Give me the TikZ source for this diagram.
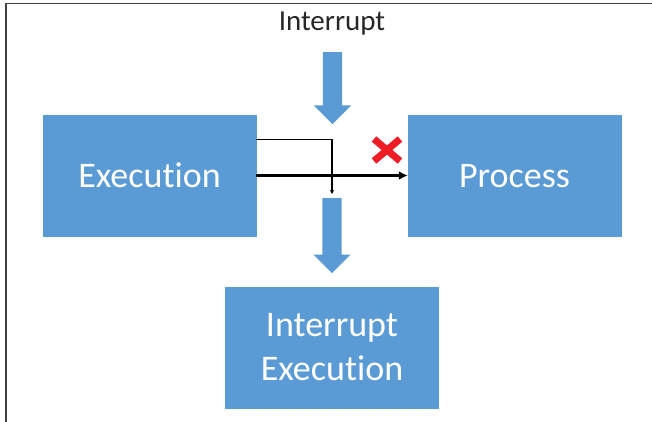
\documentclass[tikz,border=0pt]{standalone}
\usepackage{fontspec}
\setmainfont{Carlito}[Ligatures=NoCommon]
\usepackage{xcolor}
\usepackage{tikz}
\usetikzlibrary{shapes,arrows.meta,positioning,calc}
\definecolor{boxblue}{HTML}{5B9BD5}
\definecolor{stopred}{HTML}{EE1C25}

\begin{document}
\begin{tikzpicture}[x=1pt, y=-1pt,
    blockbox/.style={draw=boxblue, rectangle, fill=boxblue, text=white, font=\fontsize{36}{44}\selectfont, minimum width=213pt, minimum height=121pt, align=center, inner sep=0pt},
    downarrow/.style={single arrow, shape border rotate=270, fill=boxblue, inner sep=9.5pt, single arrow head extend=9pt}]
    \useasboundingbox (0,0) rectangle (652,422);
    \draw[black!75, line width=1.2pt] (652,3.5) -- (6,3.5) -- (6,422);
    \node[blockbox] (exec) at (149.5,175.5) {Execution};
    \node[blockbox] (proc) at (514.5,176) {Process};
    \node[blockbox] (intexec) at (332,347.5) {Interrupt\\Execution};
    \node[font=\fontsize{29}{35}\selectfont, text=black!85] (intr) at (332,24) {Interrupt};
    \node[downarrow, minimum height=72pt, anchor=tail] (up) at (332.5,52) {};
    \node[downarrow, minimum height=75pt, anchor=tail] (dn) at (332,198) {};
    \node[cross out, draw=stopred, line width=7pt, minimum width=19pt, minimum height=15pt] (stop) at (387,150) {};
    \draw[-{Stealth[length=4pt,width=4pt]}, line width=1.3pt] ($(exec.north east)+(0,25)$) -| ([yshift=4pt]dn.tail);
    \draw[-{Latex[length=9pt,width=9pt]}, line width=2.6pt] (exec.east) -- (exec.east -| proc.west);
\end{tikzpicture}
\end{document}
